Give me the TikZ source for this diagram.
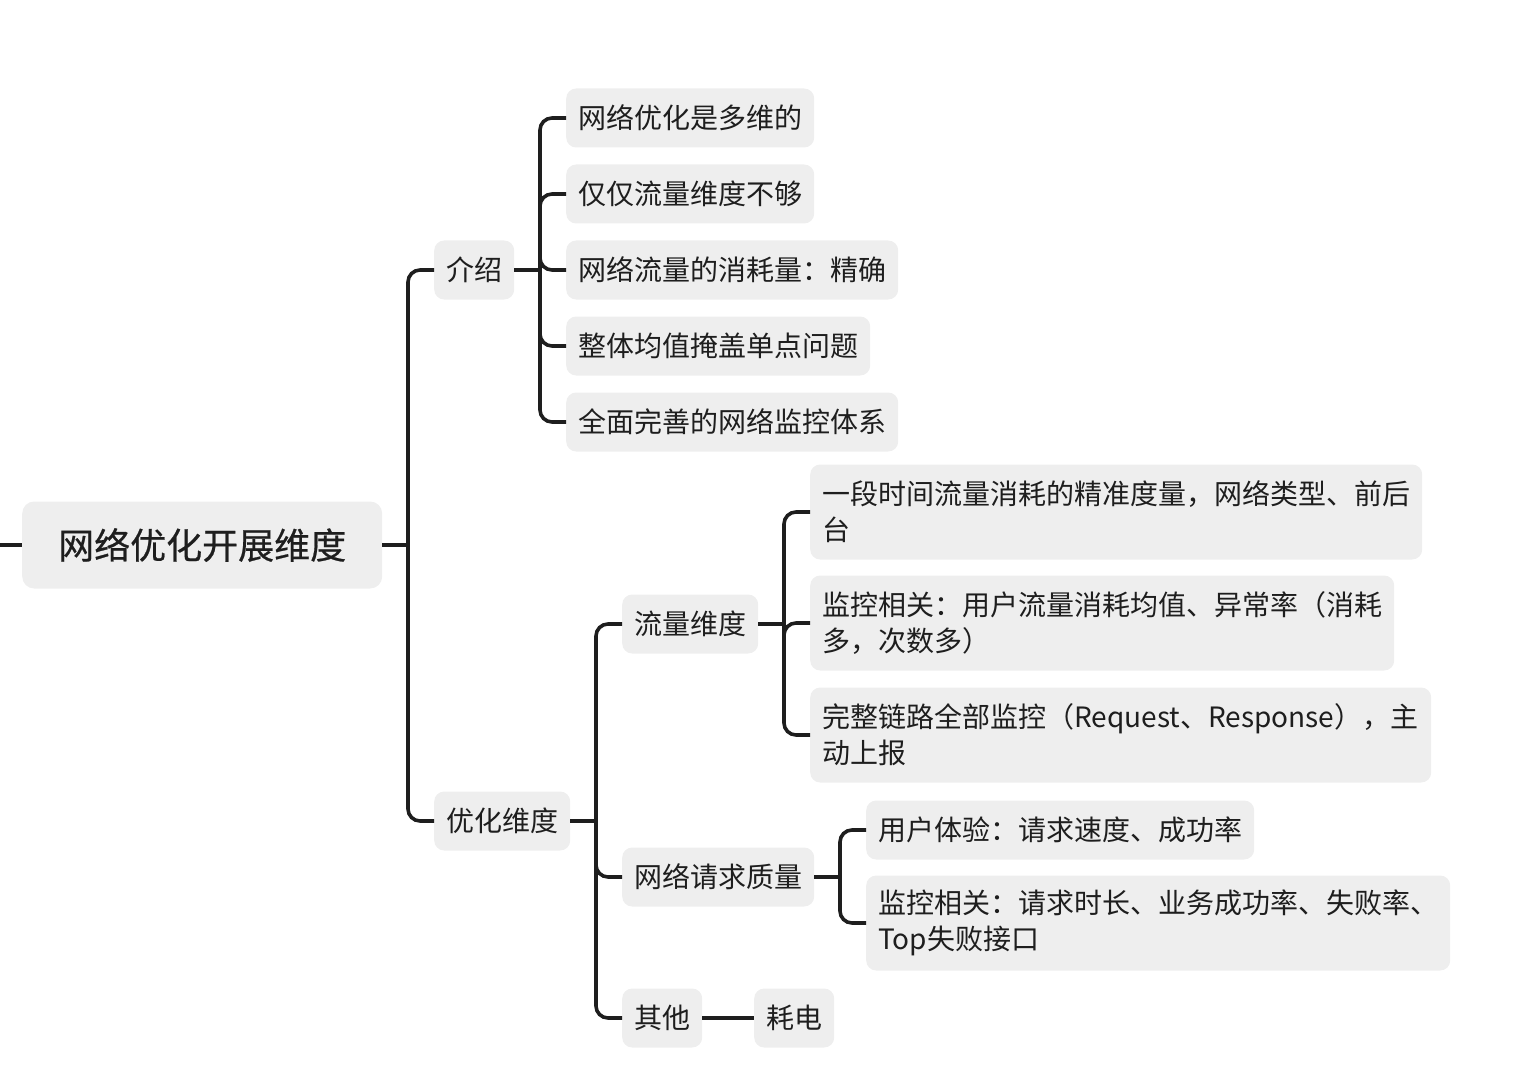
\documentclass[tikz,border=0pt]{standalone}
\usepackage{fontspec}
\newfontfamily\cjk{Noto Sans CJK SC}
\newfontfamily\cjkroot[FakeBold=0.6]{Noto Sans CJK SC}
\usetikzlibrary{calc}
\definecolor{boxgray}{HTML}{EEEEEE}
\definecolor{ink}{HTML}{1E1E1E}
\begin{document}
\begin{tikzpicture}[x=1pt,y=-1pt,
  box/.style={fill=boxgray, rounded corners=10pt, inner xsep=12pt, inner ysep=0pt,
    minimum height=59pt, anchor=west, text=ink, font=\cjk\fontsize{28}{36}\selectfont},
  box2/.style={box, minimum height=95pt, align=left},
  rootbox/.style={box, font=\cjkroot\fontsize{36}{44}\selectfont, inner xsep=36pt, minimum height=87pt, rounded corners=12pt},
  conn/.style={draw=ink, line width=3.6pt, rounded corners=12pt}]
\useasboundingbox (0,0) rectangle (1524,1086);

% nodes
\node[rootbox] (root) at (22,545) {网络优化开展维度};
\node[box] (intro) at (434,270) {介绍};
\node[box] (opt) at (434,821) {优化维度};

\node[box] (i1) at (566,118) {网络优化是多维的};
\node[box] (i2) at (566,194) {仅仅流量维度不够};
\node[box] (i3) at (566,270) {网络流量的消耗量：精确};
\node[box] (i4) at (566,346) {整体均值掩盖单点问题};
\node[box] (i5) at (566,422) {全面完善的网络监控体系};

\node[box] (flow) at (622,624) {流量维度};
\node[box] (req) at (622,877) {网络请求质量};
\node[box] (other) at (622,1018) {其他};

\node[box2, text width=588pt] (f1) at (810,512) {一段时间流量消耗的精准度量，网络类型、前后\\台};
\node[box2, text width=560pt] (f2) at (810,623) {监控相关：用户流量消耗均值、异常率（消耗\\多，次数多）};
\node[box2, text width=597pt] (f3) at (810,735) {完整链路全部监控（Request、Response），主\\动上报};

\node[box] (r1) at (866,830) {用户体验：请求速度、成功率};
\node[box2, text width=560pt] (r2) at (866,923) {监控相关：请求时长、业务成功率、失败率、\\Top失败接口};

\node[box] (power) at (754,1018) {耗电};

% connectors
\coordinate (L) at (0,545);
\draw[conn] (L) -- (root.west);

\coordinate (b0) at (408,545);
\draw[conn] (root.east) -- (b0);
\draw[conn] (b0) |- (intro.west);
\draw[conn] (b0) |- (opt.west);

\coordinate (b1) at (540,270);
\draw[conn] (intro.east) -- (b1);
\foreach \c in {i1,i2,i3,i4,i5} \draw[conn] (b1) |- (\c.west);

\coordinate (b2) at (596,821);
\draw[conn] (opt.east) -- (b2);
\foreach \c in {flow,req,other} \draw[conn] (b2) |- (\c.west);

\coordinate (b3) at (784,624);
\draw[conn] (flow.east) -- (b3);
\foreach \c in {f1,f2,f3} \draw[conn] (b3) |- (\c.west);

\coordinate (b4) at (840,877);
\draw[conn] (req.east) -- (b4);
\foreach \c in {r1,r2} \draw[conn] (b4) |- (\c.west);

\draw[conn] (other.east) -- (power.west);
\end{tikzpicture}
\end{document}
